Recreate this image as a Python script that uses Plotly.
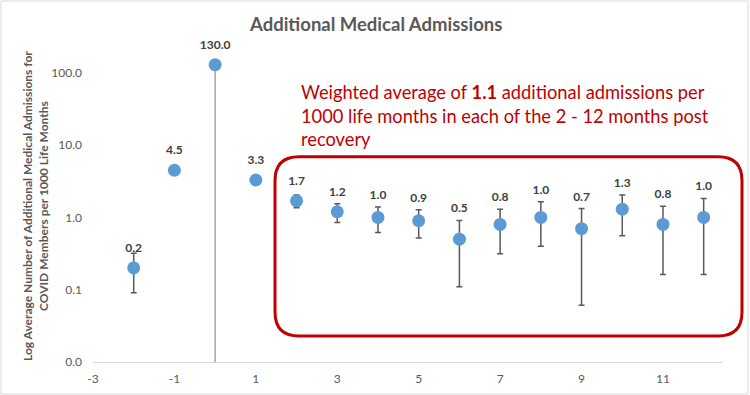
import plotly.graph_objects as go

# ---- data ----
months = [-2, -1, 0, 1, 2, 3, 4, 5, 6, 7, 8, 9, 10, 11, 12]
values = [0.2, 4.5, 130.0, 3.3, 1.7, 1.2, 1.0, 0.9, 0.5, 0.8, 1.0, 0.7, 1.3, 0.8, 1.0]
upper_bound = [0.32, 4.5, 130.0, 3.3, 2.05, 1.55, 1.39, 1.28, 0.91, 1.30, 1.65, 1.33, 2.05, 1.43, 1.83]
lower_bound = [0.091, 4.5, 130.0, 3.3, 1.36, 0.85, 0.62, 0.52, 0.11, 0.315, 0.40, 0.061, 0.56, 0.163, 0.163]
month0_lower = 0.01

x_ticks = [-3, -1, 1, 3, 5, 7, 9, 11]
x_tick_text = ["-3", "-1", "1", "3", "5", "7", "9", "11"]
y_ticks = [0.01, 0.1, 1, 10, 100]
y_tick_text = ["0.0", "0.1", "1.0", "10.0", "100.0"]

title_text = "Additional Medical Admissions"
y_title = "Log Average Number of Additional Medical Admissions for<br>COVID Members per 1000 Life Months"
note_lines = [
    "Weighted average of <b>1.1</b> additional admissions per",
    "1000 life months in each of the 2 - 12 months post",
    "recovery",
]
post_recovery_start = 2

FONT = "Lato"
W, H = 750, 395
L_PX, R_PX, T_PX, B_PX = 93, 722, 44, 362
PX_PER_DECADE = (B_PX - T_PX) / 4.4


def px(xp):
    return (xp - L_PX) / (R_PX - L_PX)


def py(yp):
    return (B_PX - yp) / (B_PX - T_PX)


plus = [u - v for u, v in zip(upper_bound, values)]
minus = [v - l for v, l in zip(values, lower_bound)]

# label placement: above the point, or above the upper cap in the post-recovery period
above_point = 10 ** (19 / PX_PER_DECADE)
above_cap = 10 ** (11 / PX_PER_DECADE)
label_y = [max(v * above_point, (u * above_cap) if m >= post_recovery_start else 0)
           for m, v, u in zip(months, values, upper_bound)]

fig = go.Figure()

# month 0 light grey drop line
i0 = months.index(0)
fig.add_trace(go.Scatter(
    x=[months[i0]], y=[values[i0]], mode="markers",
    marker=dict(size=1, color="rgba(0,0,0,0)"),
    error_y=dict(type="data", symmetric=False, array=[0], arrayminus=[values[i0] - month0_lower],
                 color="#a6a6a6", thickness=1.5, width=0),
    hoverinfo="skip", showlegend=False,
))

fig.add_trace(go.Scatter(
    x=months, y=values, mode="markers",
    marker=dict(size=13, color="#5b9bd5"),
    error_y=dict(type="data", symmetric=False, array=plus, arrayminus=minus,
                 color="#595959", thickness=1.5, width=3),
    cliponaxis=False, showlegend=False,
))

fig.add_trace(go.Scatter(
    x=months, y=label_y, mode="text",
    text=[f"{v:.1f}" for v in values], textposition="middle center",
    textfont=dict(family=FONT, size=12, color="#404040", weight="bold"),
    cliponaxis=False, showlegend=False, hoverinfo="skip",
))

fig.update_layout(
    width=W, height=H,
    margin=dict(l=L_PX, r=W - R_PX, t=T_PX, b=H - B_PX, autoexpand=False),
    paper_bgcolor="white", plot_bgcolor="white",
    font=dict(family=FONT, color="#595959"),
    showlegend=False,
    xaxis=dict(range=[-3, 12.45], tickvals=x_ticks, ticktext=x_tick_text, showgrid=False,
               zeroline=False, showline=True, linecolor="#d9d9d9", linewidth=1, ticks="",
               tickfont=dict(size=12, color="#595959"), ticklabelstandoff=6),
    yaxis=dict(type="log", range=[-2, 2.4], tickvals=y_ticks, ticktext=y_tick_text,
               showgrid=False, zeroline=False, showline=False, ticks="",
               tickfont=dict(size=12, color="#595959"), ticklabelstandoff=10),
)

# title
fig.add_annotation(text=f"<b>{title_text}</b>", xref="paper", yref="paper",
                   x=px(375), y=py(24), xanchor="center", yanchor="middle", showarrow=False,
                   font=dict(family=FONT, size=18.5, color="#595959"))

# y-axis title
fig.add_annotation(text=f"<b>{y_title}</b>", xref="paper", yref="paper",
                   x=px(35), y=py(206), xanchor="center", yanchor="middle", showarrow=False,
                   textangle=-90, font=dict(family=FONT, size=12, color="#595959"))

# red note
for line, ycen in zip(note_lines, [92, 115.5, 139]):
    fig.add_annotation(text=line, xref="paper", yref="paper", x=px(299), y=py(ycen),
                       xanchor="left", yanchor="middle", showarrow=False, align="left",
                       font=dict(family=FONT, size=18.3, color="#c00000"))

# rounded red box
x0, x1 = px(275), px(742)
y0, y1 = py(336), py(156.7)
rx, ry = 24 / (R_PX - L_PX), 24 / (B_PX - T_PX)
path = (f"M {x0+rx},{y1} L {x1-rx},{y1} Q {x1},{y1} {x1},{y1-ry} "
        f"L {x1},{y0+ry} Q {x1},{y0} {x1-rx},{y0} L {x0+rx},{y0} "
        f"Q {x0},{y0} {x0},{y0+ry} L {x0},{y1-ry} Q {x0},{y1} {x0+rx},{y1} Z")
fig.add_shape(type="path", path=path, xref="paper", yref="paper",
              line=dict(color="#c00000", width=3))

# chart border
fig.add_shape(type="rect", xref="paper", yref="paper",
              x0=px(1), x1=px(748), y0=py(394), y1=py(1),
              line=dict(color="#d9d9d9", width=1))

fig.write_html("out.html", config={"displayModeBar": False},
               post_script="document.body.style.margin='0';")
